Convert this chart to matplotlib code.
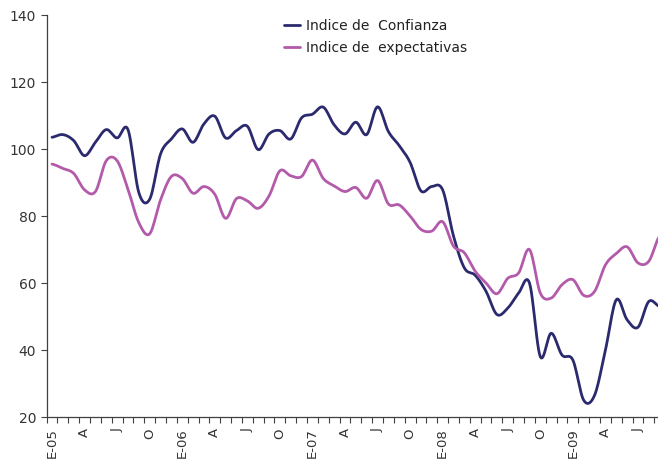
import matplotlib.pyplot as plt
import numpy as np

# monthly data, Jan 2005 - Sep 2009
months = ['E-05', '', '', 'A', '', '', 'J', '', '', 'O', '', '',
          'E-06', '', '', 'A', '', '', 'J', '', '', 'O', '', '',
          'E-07', '', '', 'A', '', '', 'J', '', '', 'O', '', '',
          'E-08', '', '', 'A', '', '', 'J', '', '', 'O', '', '',
          'E-09', '', '', 'A', '', '', 'J', '', '']

confianza = [103.5, 104.3, 102.5, 98.0, 102.0, 105.8, 103.3, 105.8, 87.0, 85.0,
             98.5, 103.0, 106.0, 102.0, 107.5, 109.8, 103.3, 105.5, 106.8, 99.8,
             104.5, 105.5, 103.0, 109.3, 110.4, 112.5, 107.2, 104.5, 108.0, 104.3,
             112.6, 105.2, 101.0, 96.0, 87.5, 88.8, 87.8, 74.0, 64.5, 62.3,
             57.5, 50.6, 52.5, 57.0, 60.0, 38.0, 45.0, 38.5, 37.0, 25.0,
             26.5, 40.0, 55.0, 49.0, 46.8, 54.5, 53.0]

expectativas = [95.5, 94.2, 92.7, 87.8, 87.3, 96.5, 96.5, 88.0, 78.0, 74.7,
                84.8, 91.8, 91.2, 86.8, 88.8, 86.5, 79.3, 85.2, 84.5, 82.3,
                86.0, 93.5, 92.0, 91.8, 96.7, 91.2, 89.0, 87.3, 88.5, 85.3,
                90.6, 83.6, 83.3, 80.0, 76.0, 75.5, 78.3, 71.0, 69.0, 63.5,
                60.0, 56.8, 61.4, 63.0, 70.0, 57.0, 55.5, 59.5, 61.0, 56.3,
                57.5, 65.4, 68.8, 70.8, 66.0, 66.5, 74.0]

navy = '#2c2a6e'
purple = '#b35aab'


def smooth(y, steps=12):
    # catmull-rom curve through the points, like a smoothed spreadsheet line
    y = np.asarray(y, dtype=float)
    p = np.concatenate([[y[0]], y, [y[-1]]])
    xs, ys = [], []
    t = np.linspace(0, 1, steps, endpoint=False)
    for i in range(len(y) - 1):
        p0, p1, p2, p3 = p[i], p[i + 1], p[i + 2], p[i + 3]
        seg = 0.5 * (2 * p1 + (-p0 + p2) * t + (2 * p0 - 5 * p1 + 4 * p2 - p3) * t ** 2
                     + (-p0 + 3 * p1 - 3 * p2 + p3) * t ** 3)
        xs.extend(i + t)
        ys.extend(seg)
    xs.append(len(y) - 1)
    ys.append(y[-1])
    return np.array(xs), np.array(ys)


fig = plt.figure(figsize=(6.58, 4.59), dpi=100)
ax = fig.add_axes([0.0708, 0.0915, 0.94, 0.8758])

x1, y1 = smooth(confianza)
x2, y2 = smooth(expectativas)
ax.plot(x1, y1, color=navy, lw=2.0, label='Indice de  Confianza', solid_capstyle='round')
ax.plot(x2, y2, color=purple, lw=2.0, label='Indice de  expectativas', solid_capstyle='round')

ax.set_xlim(-0.5, len(months) - 0.5)
ax.set_ylim(20, 140)
ax.set_yticks(range(20, 141, 20))

# tick marks between months, labels centred on the months
ax.set_xticks(np.arange(len(months) + 1) - 0.5)
ax.set_xticklabels([])
ax.set_xticks(np.arange(len(months)), minor=True)
ax.set_xticklabels(months, minor=True, rotation=90, va='top', ha='center')
ax.tick_params(axis='x', which='minor', length=0, pad=8)
ax.tick_params(axis='x', which='major', length=4, width=0.8, color='#404040')
ax.tick_params(axis='y', length=4, width=0.8, color='#404040')
ax.tick_params(labelsize=10, labelcolor='#333333')
ax.tick_params(axis='x', which='minor', labelsize=9.5, labelcolor='#333333')

for s in ['top', 'right']:
    ax.spines[s].set_visible(False)
for s in ['left', 'bottom']:
    ax.spines[s].set_color('#404040')
    ax.spines[s].set_linewidth(0.9)

fig.legend(loc='upper left', bbox_to_anchor=(271 / 658, 1 - 6 / 459), frameon=False,
           fontsize=10, handlelength=1.2, handletextpad=0.4, labelspacing=0.6,
           labelcolor='#222222')

fig.savefig('out.png', dpi=100)
